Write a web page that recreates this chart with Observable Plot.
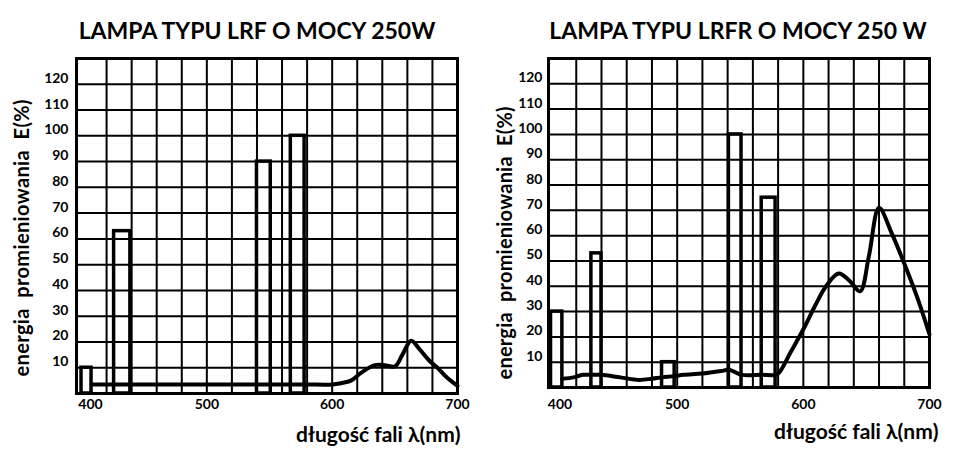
<!DOCTYPE html>
<html>
<head>
<meta charset="utf-8">
<script src="https://cdn.jsdelivr.net/npm/d3@7"></script>
<script src="https://cdn.jsdelivr.net/npm/@observablehq/plot@0.6"></script>
<style>
  html, body { margin: 0; padding: 0; background: #fff; }
  #charts { display: flex; width: 953px; height: 456px; }
  svg { display: block; }
</style>
</head>
<body>
<div id="charts"></div>
<script>
// Axis ticks and grid positions
const energyTicks = [10, 20, 30, 40, 50, 60, 70, 80, 90, 100, 110, 120];
const firstWavelengthTick = [400];
const wavelengthTicks = [500, 600, 700];
const gridWavelengths = [420, 440, 460, 480, 500, 520, 540, 560, 580, 600, 620, 640, 660, 680];

// LRF 250 W: spectral lines (start nm, end nm, energy %)
const lrfLineFrom = [400, 426, 540, 567];
const lrfLineTo = [408, 439, 551, 578];
const lrfLineEnergy = [10, 63, 90, 100];
// LRF 250 W: continuous spectrum
const lrfWave = [408, 440, 480, 520, 560, 580, 600, 607, 615, 623, 634, 642, 650, 656, 663, 670, 677, 684, 692, 700];
const lrfEnergy = [3.5, 3.5, 3.5, 3.5, 3.5, 3.5, 3.5, 4, 5, 8, 11, 11, 10.5, 15, 20.5, 17, 13, 10, 6, 3];

// LRFR 250 W: spectral lines
const lrfrLineFrom = [400, 432, 488, 541, 567];
const lrfrLineTo = [409, 440, 498, 551, 578];
const lrfrLineEnergy = [30, 53, 10, 100, 75];
// LRFR 250 W: continuous spectrum
const lrfrWave = [409, 418, 425, 432, 440, 455, 470, 480, 488, 498, 505, 520, 535, 541, 551, 567, 578, 581, 590, 600, 610, 618, 628, 637, 645, 652, 660, 670, 680, 690, 700];
const lrfrEnergy = [3.5, 4, 5, 5, 5, 4, 3, 3.5, 4, 4.5, 5, 5.5, 6.5, 7, 5, 5, 5, 6, 14, 23, 33, 40, 45, 42, 38, 52, 71, 61, 49, 36, 21];

const FONT = "Lato, 'Open Sans', 'DejaVu Sans', sans-serif";
const Y_LABEL = "energia  promieniowania  E(%)";

function panel(o) {
  const lines = o.lineFrom.map((x1, i) => ({x1, x2: o.lineTo[i], e: o.lineEnergy[i]}));
  const spectrum = o.wave.map((w, i) => ({w, e: o.energy[i]}));
  const svg = Plot.plot({
    width: o.width,
    height: 456,
    marginLeft: o.margin[0],
    marginRight: o.margin[1],
    marginTop: o.margin[2],
    marginBottom: o.margin[3],
    style: {fontFamily: FONT, fontWeight: "bold", fontSize: "14px", color: "#000", background: "#fff"},
    x: {domain: o.xDomain, axis: null, label: null},
    y: {domain: [0, 130], axis: null, label: null},
    marks: [
      Plot.gridX(gridWavelengths, {stroke: "#000", strokeOpacity: 1, strokeWidth: 2}),
      Plot.gridY(energyTicks, {stroke: "#000", strokeOpacity: 1, strokeWidth: 2}),
      Plot.frame({stroke: "#000", strokeWidth: 3}),
      Plot.line(spectrum, {x: "w", y: "e", curve: "catmull-rom", stroke: "#000", strokeWidth: 4, strokeLinejoin: "round"}),
      Plot.rect(lines, {x1: "x1", x2: "x2", y1: 0, y2: "e", fill: "none", stroke: "#000", strokeWidth: 3.5}),
      Plot.axisY(energyTicks, {tickSize: 0, tickPadding: o.yPad, dy: -6, label: null, fontSize: 14}),
      Plot.axisX(firstWavelengthTick, {tickSize: 0, tickPadding: o.xPad, dx: 9, label: null, fontSize: 14}),
      Plot.axisX(wavelengthTicks, {tickSize: 0, tickPadding: o.xPad, label: null, fontSize: 14}),
      Plot.text([o.title], {frameAnchor: "top", dx: o.titleDx, dy: -36, fontSize: 23, fontWeight: "bold"}),
      Plot.text([Y_LABEL], {frameAnchor: "left", textAnchor: "middle", rotate: -90, dx: o.yLabelDx, dy: o.yLabelDy, fontSize: 20, fontWeight: "bold"}),
      Plot.text([o.xLabel], {frameAnchor: "bottom-right", textAnchor: "end", dx: o.xLabelDx, dy: o.xLabelDy, fontSize: 21, fontWeight: "bold"})
    ]
  });
  // the vertical axis title runs along the whole frame height
  svg.querySelectorAll("text").forEach((t) => {
    if (t.textContent === Y_LABEL) {
      t.setAttribute("textLength", o.yLabelLength);
      t.setAttribute("lengthAdjust", "spacing");
    }
  });
  return svg;
}

const charts = document.getElementById("charts");
charts.append(panel({
  title: "LAMPA TYPU LRF O MOCY 250W",
  lineFrom: lrfLineFrom, lineTo: lrfLineTo, lineEnergy: lrfLineEnergy,
  wave: lrfWave, energy: lrfEnergy,
  xDomain: [396, 700], width: 476, margin: [76, 19, 58, 63],
  yPad: 8, xPad: 6, titleDx: -10, yLabelDx: -54, yLabelDy: 12, yLabelLength: 277,
  xLabel: "długość fali λ(nm)", xLabelDx: 3, xLabelDy: 48
}));
charts.append(panel({
  title: "LAMPA TYPU LRFR O MOCY 250 W",
  lineFrom: lrfrLineFrom, lineTo: lrfrLineTo, lineEnergy: lrfrLineEnergy,
  wave: lrfrWave, energy: lrfrEnergy,
  xDomain: [398, 700], width: 477, margin: [72, 24, 58, 69],
  yPad: 6, xPad: 12, titleDx: -1, yLabelDx: -43, yLabelDy: 20, yLabelLength: 273,
  xLabel: "długość fali λ(nm)", xLabelDx: 9, xLabelDy: 51
}));
</script>
</body>
</html>
